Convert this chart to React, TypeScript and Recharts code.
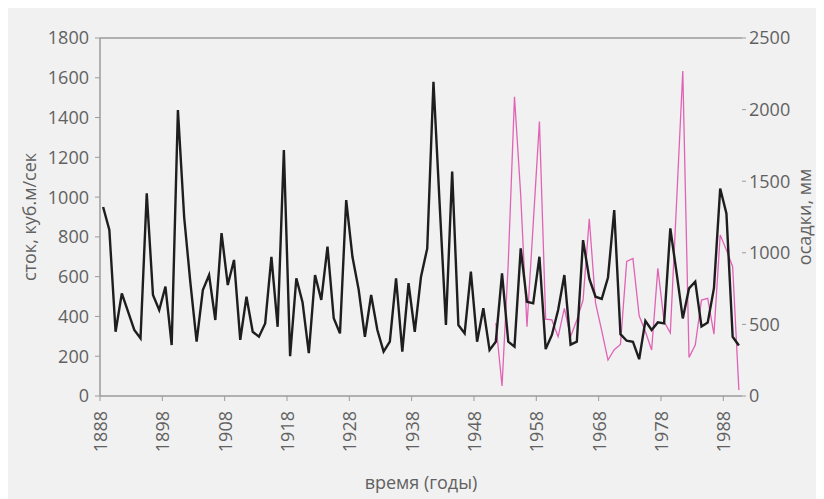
import { LineChart, Line, XAxis, YAxis, ReferenceLine } from 'recharts'

// годы наблюдений
const FIRST_YEAR = 1888
const PRECIP_FIRST_YEAR = 1951

// сток, куб.м/сек (1888–1990)
const runoff = [
  950, 835, 323, 516, 424, 332, 290, 1019, 508, 432,
  550, 256, 1438, 900, 570, 273, 533, 608, 382, 819,
  558, 684, 282, 499, 323, 298, 365, 700, 348, 1237,
  200, 592, 470, 216, 608, 483, 751, 391, 315, 985,
  700, 535, 298, 508, 332, 223, 273, 592, 223, 567,
  323, 600, 742, 1580, 960, 357, 1128, 357, 315, 625,
  273, 441, 231, 273, 617, 273, 248, 742, 474, 466,
  700, 236, 307, 432, 608, 258, 273, 784, 590, 499,
  488, 596, 935, 311, 278, 273, 185, 378, 332, 370,
  365, 843, 620, 390, 541, 575, 350, 370, 542, 1043,
  918, 298, 254,
]

// осадки, мм (1951–1990)
const precipitation = [
  510, 70, 930, 2090, 1400, 484, 1200, 1916, 537, 531,
  414, 612, 414, 531, 670, 1238, 650, 455, 251, 323,
  360, 940, 961, 560, 450, 321, 891, 520, 440, 1350,
  2270, 270, 356, 670, 682, 432, 1124, 1020, 903, 42,
]

const leftTicks = [0, 200, 400, 600, 800, 1000, 1200, 1400, 1600, 1800]
const rightTicks = [0, 500, 1000, 1500, 2000, 2500]
// деления оси времени стоят на границах лет
const yearTicks = [1887.5, 1897.5, 1907.5, 1917.5, 1927.5, 1937.5, 1947.5, 1957.5, 1967.5, 1977.5, 1987.5]

const data = runoff.map((v, i) => {
  const year = FIRST_YEAR + i
  const p = year - PRECIP_FIRST_YEAR
  return {
    year,
    runoff: v,
    precip: p >= 0 ? precipitation[p] : null,
  }
})

const FONT = '"Open Sans", "Noto Sans", sans-serif'
const TEXT = '#616161'
const AXIS = '#9a9a9a'

const YearTick = ({ x, y, payload }: { x?: number; y?: number; payload?: { value: number } }) => {
  if (x == null || y == null || !payload) return null
  const label = String(Math.round(payload.value + 0.5))
  return (
    <text
      x={x}
      y={y + 8}
      transform={`rotate(-90, ${x}, ${y + 8})`}
      textAnchor="end"
      dominantBaseline="central"
      fill={TEXT}
      fontSize={18}
      fontFamily={FONT}
    >
      {label}
    </text>
  )
}

export default function App() {
  return (
    <div style={{ width: 808, height: 491, background: '#f1f1f1', fontFamily: FONT }}>
      <LineChart
        width={808}
        height={491}
        data={data}
        margin={{ top: 30, right: 0, bottom: 43, left: 0 }}
      >
        <XAxis
          dataKey="year"
          type="number"
          domain={[1887.5, 1990.5]}
          ticks={yearTicks}
          interval={0}
          height={60}
          tick={<YearTick />}
          tickSize={5}
          axisLine={{ stroke: AXIS, strokeWidth: 1.5 }}
          tickLine={{ stroke: AXIS }}
          label={{
            value: 'время (годы)',
            position: 'insideBottom',
            offset: -33,
            fill: TEXT,
            fontSize: 18,
            fontFamily: FONT,
          }}
        />
        <YAxis
          yAxisId="left"
          domain={[0, 1800]}
          ticks={leftTicks}
          width={92}
          tickSize={5}
          tickMargin={6}
          tick={{ fill: TEXT, fontSize: 18, fontFamily: FONT }}
          axisLine={{ stroke: AXIS, strokeWidth: 1.5 }}
          tickLine={{ stroke: AXIS }}
          label={{
            value: 'сток, куб.м/сек',
            angle: -90,
            position: 'insideLeft',
            offset: 22,
            fill: TEXT,
            fontSize: 18,
            fontFamily: FONT,
            style: { textAnchor: 'middle' },
          }}
        />
        <YAxis
          yAxisId="right"
          orientation="right"
          domain={[0, 2500]}
          ticks={rightTicks}
          width={74}
          tickSize={4}
          tickMargin={3}
          tick={{ fill: TEXT, fontSize: 18, fontFamily: FONT, textAnchor: 'start' }}
          axisLine={false}
          tickLine={{ stroke: AXIS }}
          label={{
            value: 'осадки, мм',
            angle: -90,
            position: 'insideRight',
            offset: 11,
            fill: TEXT,
            fontSize: 18,
            fontFamily: FONT,
            style: { textAnchor: 'middle' },
          }}
        />
        {/* верхняя граница области построения */}
        <ReferenceLine yAxisId="left" y={1800} stroke={AXIS} strokeWidth={1.5} />
        <Line
          yAxisId="right"
          dataKey="precip"
          stroke="#e063b6"
          strokeWidth={1.3}
          dot={false}
          isAnimationActive={false}
        />
        <Line
          yAxisId="left"
          dataKey="runoff"
          stroke="#1e1e1e"
          strokeWidth={2.4}
          dot={false}
          isAnimationActive={false}
        />
      </LineChart>
    </div>
  )
}
